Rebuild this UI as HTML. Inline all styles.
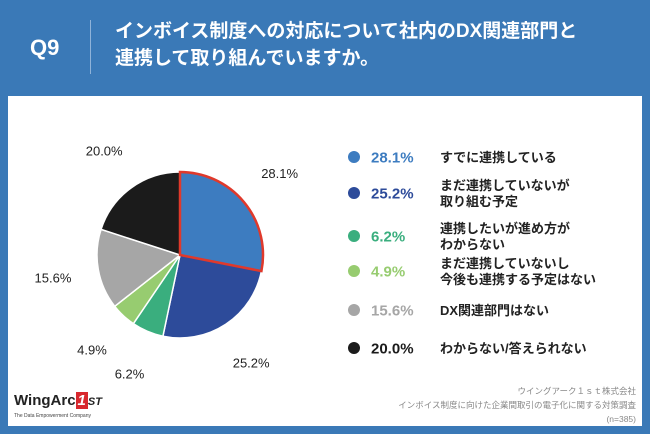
<!DOCTYPE html>
<html><head><meta charset="utf-8"><style>
body{margin:0;width:650px;height:434px;background:#3a79b7;font-family:"Liberation Sans","Noto Sans CJK JP",sans-serif;position:relative;overflow:hidden}
.abs{position:absolute}
</style></head><body>
<div class="abs" style="left:30px;top:35px;color:#fff;font-size:22px;font-weight:bold">Q9</div>
<div class="abs" style="left:90px;top:20px;width:1px;height:54px;background:#8fb3d9"></div>
<div class="abs" style="left:115px;top:18px;color:#fff;font-size:19px;font-weight:bold;line-height:27px;white-space:nowrap">インボイス制度への対応について社内のDX関連部門と<br>連携して取り組んでいますか。</div>
<div class="abs" style="left:8px;top:96px;width:634px;height:330px;background:#fff"></div>
<svg class="abs" style="left:0;top:0" width="650" height="434">
<g id="pie"></g>
</svg>
<div class="abs" style="left:14px;top:392px;font-size:15px;font-weight:bold;color:#222">WingArc<span style="background:#d8282e;color:#fff;padding:0 2px;font-style:italic">1</span><span style="font-size:11px;font-style:italic">ST</span></div>
<div class="abs" style="left:14px;top:413px;font-size:5px;color:#444">The Data Empowerment Company</div>
<div class="abs" style="right:14px;top:384px;font-size:8.5px;color:#888;text-align:right;line-height:14px">ウイングアーク１ｓｔ株式会社<br>インボイス制度に向けた企業間取引の電子化に関する対策調査<br>(n=385)</div>
<script>
const categories=["すでに連携している","まだ連携していないが\n取り組む予定","連携したいが進め方が\nわからない","まだ連携していないし\n今後も連携する予定はない","DX関連部門はない","わからない/答えられない"];
const values=[28.1,25.2,6.2,4.9,15.6,20.0];
const colors=["#3d7cc0","#2d4b9a","#3aae7e","#97cc70","#a6a6a6","#1b1b1b"];
const legendY=[157,193,236,271,310,348];
const cx=180,cy=255,r=83;
const svg=document.querySelector('svg'),g=document.getElementById('pie');
const NS="http://www.w3.org/2000/svg";
const total=values.reduce((a,b)=>a+b,0);
function pt(a,rr){return [cx+rr*Math.sin(a),cy-rr*Math.cos(a)];}
let a0=0;
values.forEach((v,i)=>{
 const a1=a0+v/total*2*Math.PI;
 const p0=pt(a0,r),p1=pt(a1,r);
 const path=document.createElementNS(NS,'path');
 path.setAttribute('d',`M${cx},${cy}L${p0[0]},${p0[1]}A${r},${r} 0 ${a1-a0>Math.PI?1:0} 1 ${p1[0]},${p1[1]}Z`);
 path.setAttribute('fill',colors[i]);path.setAttribute('stroke','#fff');path.setAttribute('stroke-width','1.5');
 
 
 g.appendChild(path);
 const m=(a0+a1)/2,lp=pt(m,r+46);
 const t=document.createElementNS(NS,'text');
 t.setAttribute('x',lp[0]);t.setAttribute('y',lp[1]+5);t.setAttribute('text-anchor','middle');
 t.setAttribute('font-size','13');t.setAttribute('fill','#222');t.textContent=values[i].toFixed(1)+'%';
 
 
 svg.appendChild(t);
 a0=a1;
});
{const a1=values[0]/total*2*Math.PI,p1=pt(a1,r);
 const h=document.createElementNS(NS,'path');
 h.setAttribute('d',`M${cx},${cy}L${cx},${cy-r}A${r},${r} 0 0 1 ${p1[0]},${p1[1]}Z`);
 h.setAttribute('fill','none');h.setAttribute('stroke','#e0392b');h.setAttribute('stroke-width','2.5');
 
 
 g.appendChild(h);}
values.forEach((v,i)=>{
 const y=legendY[i];
 const c=document.createElementNS(NS,'circle');
 c.setAttribute('cx',354);c.setAttribute('cy',y);c.setAttribute('r',6);c.setAttribute('fill',colors[i]);
 
 
 svg.appendChild(c);
 const p=document.createElementNS(NS,'text');
 p.setAttribute('x',371);p.setAttribute('y',y+5.5);p.setAttribute('font-size','15');p.setAttribute('font-weight','bold');
 p.setAttribute('fill',colors[i]);p.textContent=v.toFixed(1)+'%';
 
 
 svg.appendChild(p);
 const lines=categories[i].split('\n');
 lines.forEach((ln,j)=>{
  const t=document.createElementNS(NS,'text');
  t.setAttribute('x',440);t.setAttribute('y',y+5-(lines.length-1)*8+j*16);
  t.setAttribute('font-size','13');t.setAttribute('font-weight','bold');t.setAttribute('fill','#222');t.textContent=ln;
  
  
  svg.appendChild(t);
 });
});
</script>
</body></html>
